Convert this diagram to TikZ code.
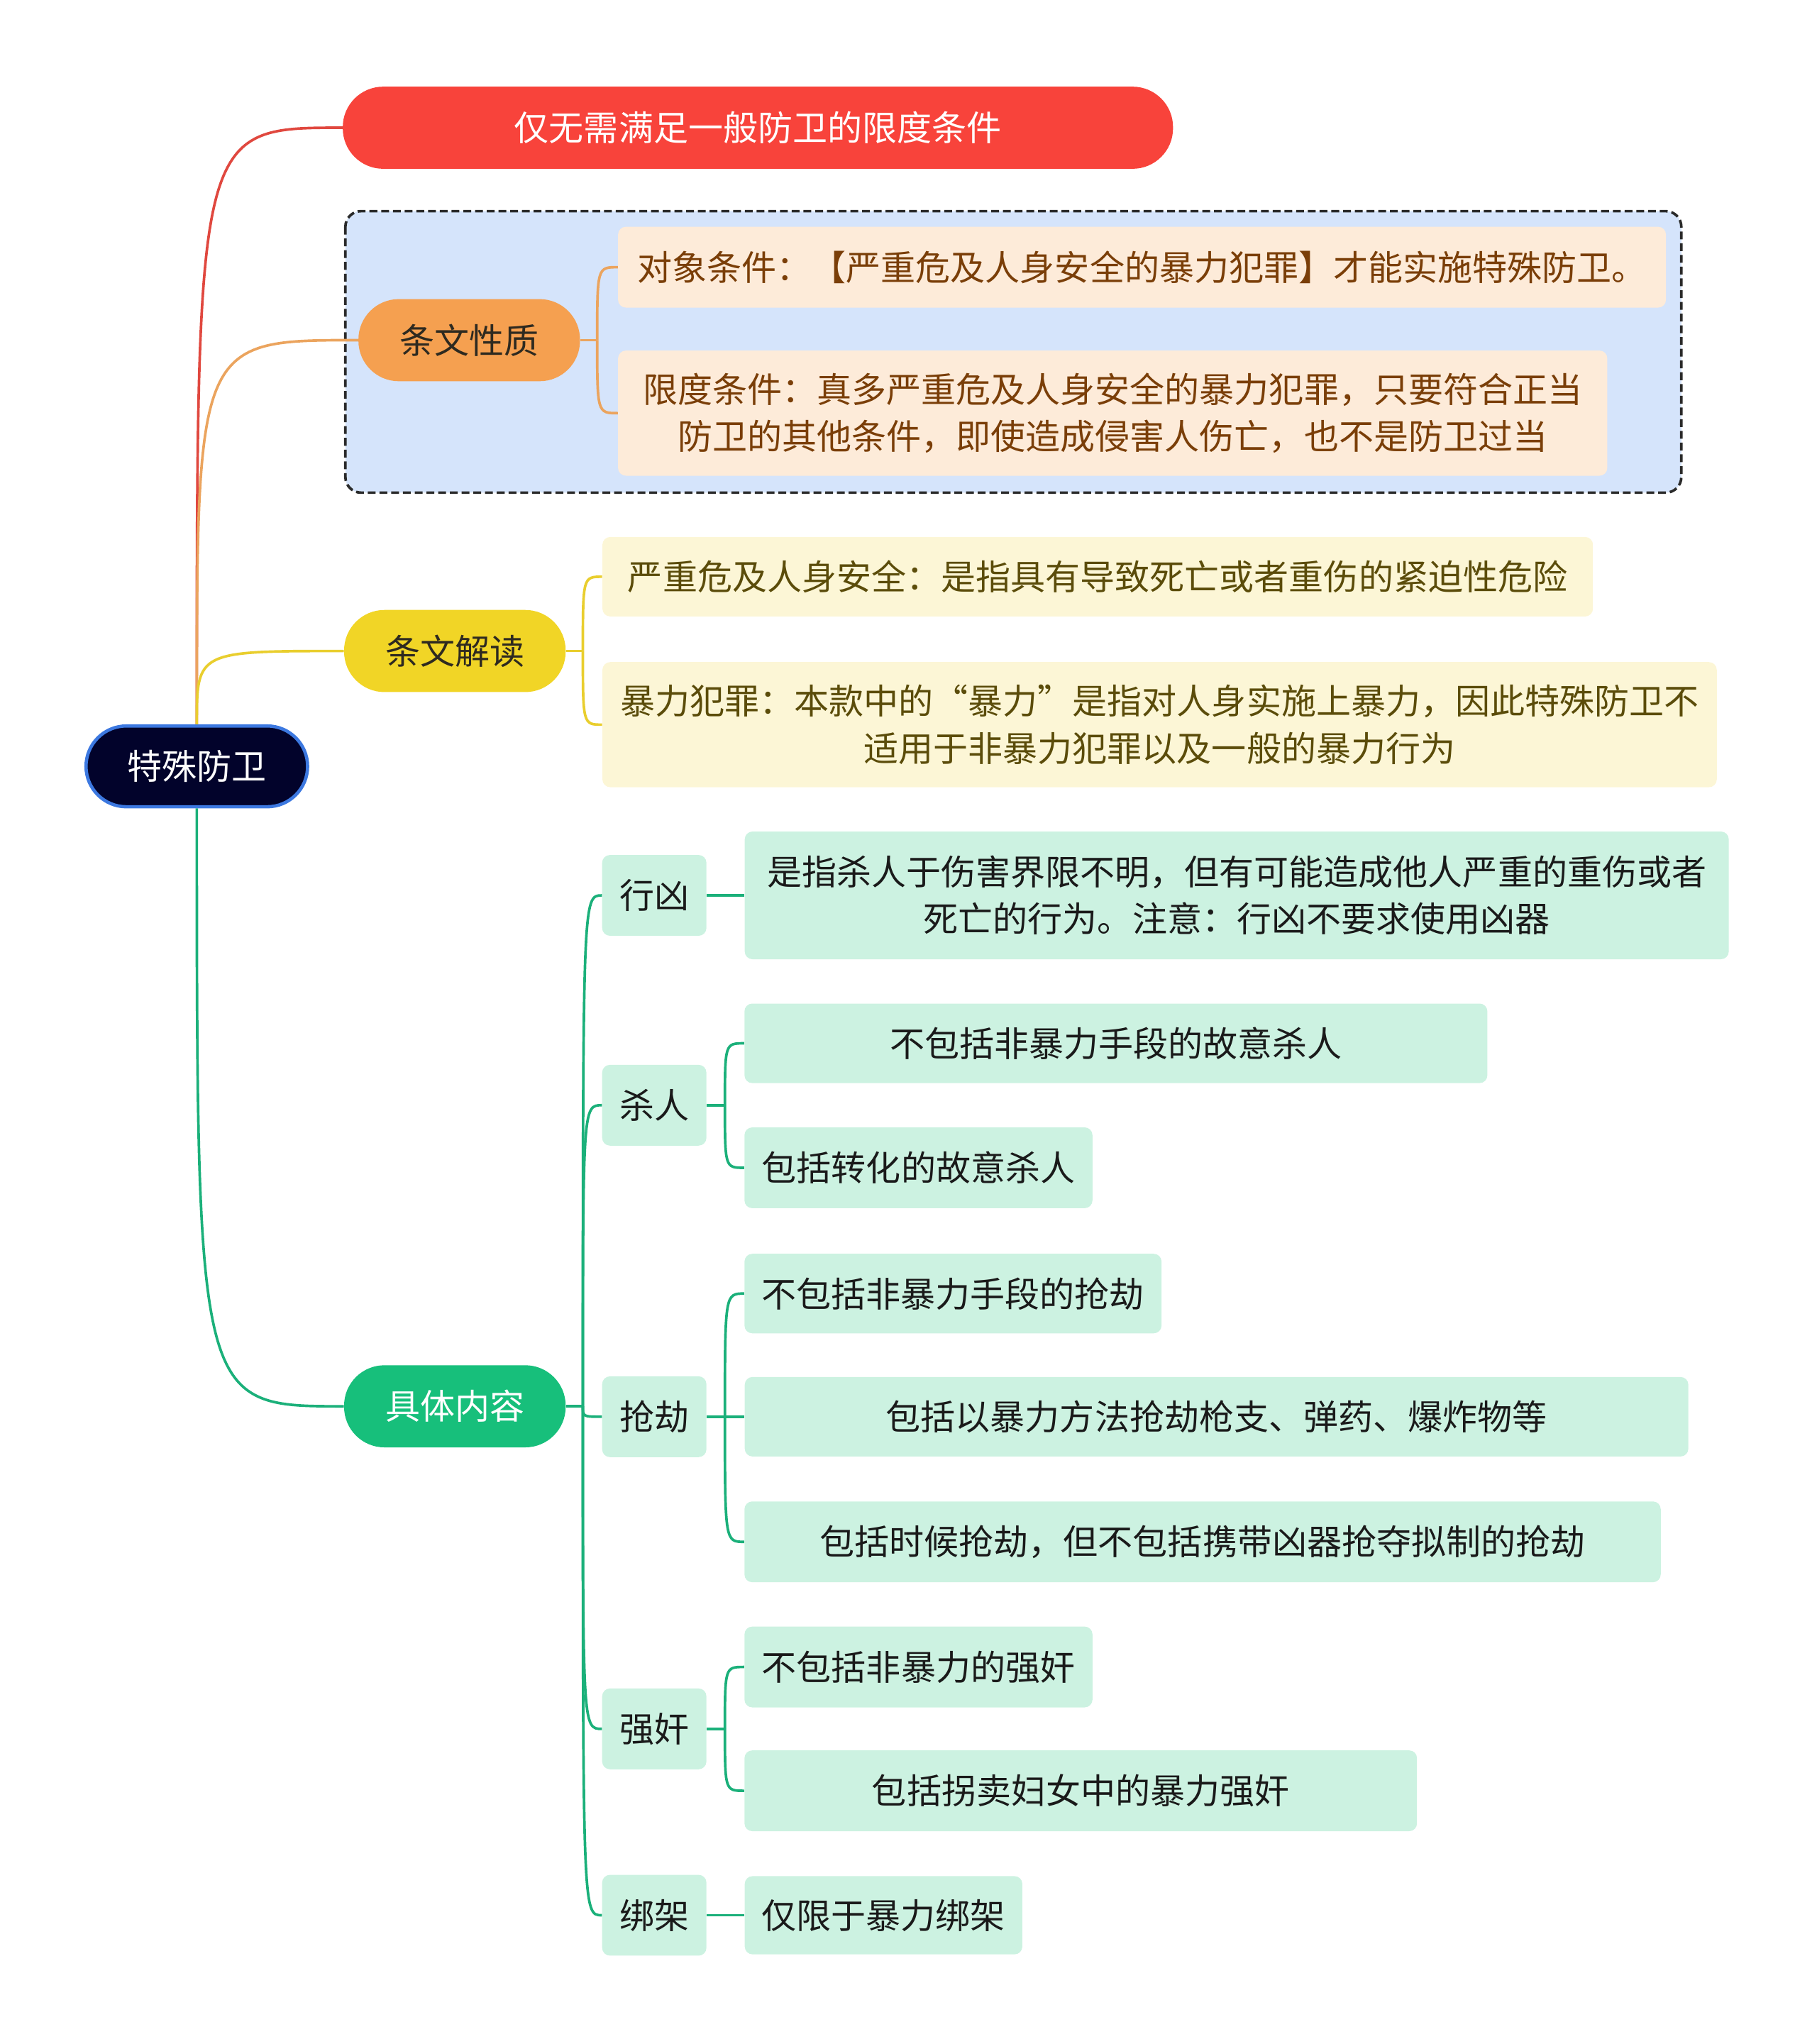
\documentclass[tikz,border=0pt]{standalone}
\usepackage{fontspec}
\setmainfont{Noto Sans CJK SC}
\usetikzlibrary{positioning}

\definecolor{rootfill}{HTML}{02032B}
\definecolor{rootline}{HTML}{3C78E0}
\definecolor{redfill}{HTML}{F8433B}
\definecolor{redline}{HTML}{E0483F}
\definecolor{orangefill}{HTML}{F5A050}
\definecolor{orangeline}{HTML}{EBA45E}
\definecolor{yellowfill}{HTML}{F1D526}
\definecolor{yellowline}{HTML}{E9CE2E}
\definecolor{greenfill}{HTML}{17BF7B}
\definecolor{greenline}{HTML}{1BB07A}
\definecolor{peach}{HTML}{FDEBD9}
\definecolor{peachtext}{HTML}{7A3E08}
\definecolor{cream}{HTML}{FCF6D6}
\definecolor{creamtext}{HTML}{5B4C0A}
\definecolor{mint}{HTML}{CCF2E1}
\definecolor{framefill}{HTML}{D5E4FB}
\definecolor{frameline}{HTML}{2A2A2A}
\definecolor{topictext}{HTML}{2E2A20}
\definecolor{leaftext}{HTML}{1A1A1A}

\begin{document}
\begin{tikzpicture}[x=1pt, y=-1pt,
    every node/.append style={align=center, inner sep=0pt,
      font=\fontsize{26.7pt}{36pt}\selectfont},
    topic/.style={rounded corners=31pt, minimum width=170pt, minimum height=63pt},
    sub/.style={fill=mint, text=leaftext, rounded corners=6pt,
      minimum width=80pt, minimum height=62pt},
    leaf/.style={rounded corners=6pt, anchor=west, minimum height=62pt},
    greenleaf/.style={leaf, fill=mint, text=leaftext},
    link/.style={line width=2pt},
    frame/.style={fill=framefill, draw=frameline, line width=2pt,
      dash pattern=on 6pt off 3pt, rounded corners=12pt}]
   \useasboundingbox (0,0) rectangle (1393.6,1568.3);

   % box round the first branch
   \draw[frame] (265,162) rectangle (1290,378);

   \node[topic, fill=rootfill, draw=rootline, line width=2.5pt, text=white,
     minimum height=62pt] (root) at (151,588) {特殊防卫};

   \node[topic, fill=redfill, text=white, minimum width=637pt] (limit) at (581.5,98)
     {仅无需满足一般防卫的限度条件};

   \node[topic, fill=orangefill, text=topictext] (nature) at (360,261) {条文性质};
   \node[leaf, fill=peach, text=peachtext, minimum width=804pt] (object) at (474,205)
     {对象条件：【严重危及人身安全的暴力犯罪】才能实施特殊防卫。};
   \node[leaf, fill=peach, text=peachtext, minimum width=759pt, minimum height=96pt] (degree) at (474,317)
     {限度条件：真多严重危及人身安全的暴力犯罪，只要符合正当\\防卫的其他条件，即使造成侵害人伤亡，也不是防卫过当};

   \node[topic, fill=yellowfill, text=topictext] (reading) at (349,499.5) {条文解读};
   \node[leaf, fill=cream, text=creamtext, minimum width=760pt, minimum height=61pt] (safety) at (462,442.5)
     {严重危及人身安全：是指具有导致死亡或者重伤的紧迫性危险};
   \node[leaf, fill=cream, text=creamtext, minimum width=855pt, minimum height=96pt] (violence) at (462,556)
     {暴力犯罪：本款中的“暴力”是指对人身实施上暴力，因此特殊防卫不\\适用于非暴力犯罪以及一般的暴力行为};

   \node[topic, fill=greenfill, text=white] (content) at (349,1079) {具体内容};
   \node[sub] (xiong) at (502,687) {行凶};
   \node[sub] (sha) at (502,848) {杀人};
   \node[sub] (qiang) at (502,1087) {抢劫};
   \node[sub] (jian) at (502,1326.5) {强奸};
   \node[sub] (bang) at (502,1469.5) {绑架};

   \node[greenleaf, minimum width=755pt, minimum height=98pt, right=29pt of xiong] (xiongA)
     {是指杀人于伤害界限不明，但有可能造成他人严重的重伤或者\\死亡的行为。注意：行凶不要求使用凶器};
   \node[greenleaf, minimum width=570pt, minimum height=61pt] (shaA) at (571,800.5) {不包括非暴力手段的故意杀人};
   \node[greenleaf, minimum width=267pt] (shaB) at (571,896) {包括转化的故意杀人};
   \node[greenleaf, minimum width=320pt, minimum height=61pt] (qiangA) at (571,992.5) {不包括非暴力手段的抢劫};
   \node[greenleaf, minimum width=724pt, minimum height=61pt, right=29pt of qiang] (qiangB)
     {包括以暴力方法抢劫枪支、弹药、爆炸物等};
   \node[greenleaf, minimum width=703pt] (qiangC) at (571,1183) {包括时候抢劫，但不包括携带凶器抢夺拟制的抢劫};
   \node[greenleaf, minimum width=267pt] (jianA) at (571,1279) {不包括非暴力的强奸};
   \node[greenleaf, minimum width=516pt] (jianB) at (571,1374) {包括拐卖妇女中的暴力强奸};
   \node[greenleaf, minimum width=213pt, minimum height=60pt, right=29pt of bang] (bangA) {仅限于暴力绑架};

   % main branches
   \draw[link, draw=redline] (root.north) .. controls (root.north |- limit.west) .. (limit.west);
   \draw[link, draw=orangeline] (root.north) .. controls (root.north |- nature.west) .. (nature.west);
   \draw[link, draw=yellowline] (root.north) .. controls (root.north |- reading.west) .. (reading.west);
   \draw[link, draw=greenline] (root.south) .. controls (root.south |- content.west) .. (content.west);

   % forks
   \draw[link, draw=orangeline] (nature.east) -- ++(13,0) coordinate (nfork);
   \foreach \leafname in {object,degree}
     \draw[link, draw=orangeline] (nfork) .. controls (nfork |- \leafname.west) .. (\leafname.west);

   \draw[link, draw=yellowline] (reading.east) -- ++(13,0) coordinate (rfork);
   \foreach \leafname in {safety,violence}
     \draw[link, draw=yellowline] (rfork) .. controls (rfork |- \leafname.west) .. (\leafname.west);

   \draw[link, draw=greenline] (content.east) -- ++(13,0) coordinate (cfork);
   \foreach \subname in {xiong,sha,qiang,jian,bang}
     \draw[link, draw=greenline] (cfork) .. controls (cfork |- \subname.west) .. (\subname.west);

   \draw[link, draw=greenline] (xiong.east) -- (xiongA.west);
   \draw[link, draw=greenline] (bang.east) -- (bangA.west);

   \draw[link, draw=greenline] (sha.east) -- ++(14,0) coordinate (sfork);
   \foreach \leafname in {shaA,shaB}
     \draw[link, draw=greenline] (sfork) .. controls (sfork |- \leafname.west) .. (\leafname.west);

   \draw[link, draw=greenline] (qiang.east) -- ++(14,0) coordinate (qfork);
   \foreach \leafname in {qiangA,qiangB,qiangC}
     \draw[link, draw=greenline] (qfork) .. controls (qfork |- \leafname.west) .. (\leafname.west);

   \draw[link, draw=greenline] (jian.east) -- ++(14,0) coordinate (jfork);
   \foreach \leafname in {jianA,jianB}
     \draw[link, draw=greenline] (jfork) .. controls (jfork |- \leafname.west) .. (\leafname.west);
\end{tikzpicture}
\end{document}
